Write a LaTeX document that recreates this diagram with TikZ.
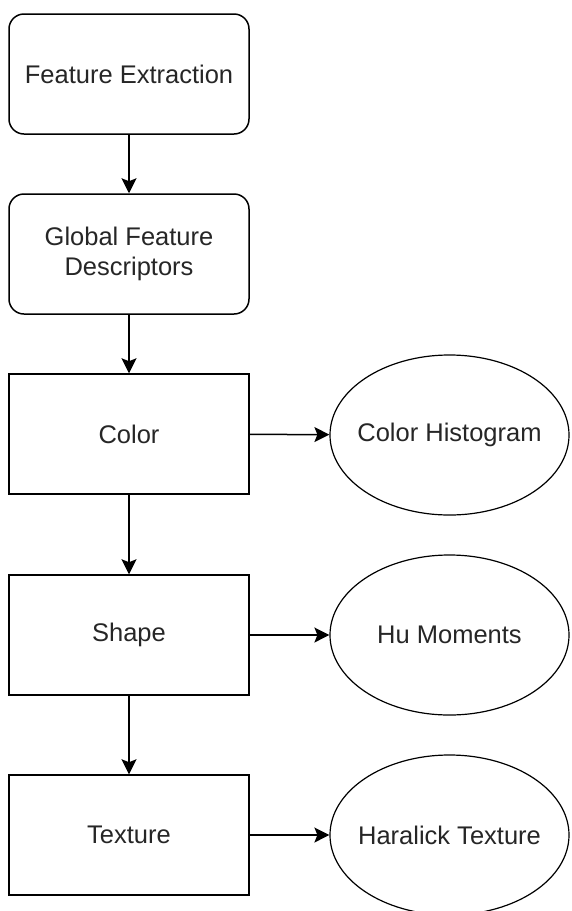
\documentclass[tikz,border=0pt]{standalone}
\usepackage{fontspec}
\setmainfont{Liberation Sans}
\usetikzlibrary{shapes.geometric,arrows.meta}
\begin{document}
\begin{tikzpicture}[x=1pt,y=-1pt,
  base/.style={draw=black,line width=1.5pt,align=center,inner sep=0pt,
    font=\fontsize{25.5}{30}\selectfont,text=black!85},
  rbox/.style={base,rectangle,rounded corners=15pt,minimum width=240pt,minimum height=120pt},
  sbox/.style={base,rectangle,minimum width=240pt,minimum height=120pt},
  ell/.style={base,ellipse,line width=1.2pt,inner sep=-15pt,minimum width=239pt,minimum height=160pt},
  arr/.style={line width=1.5pt,-{Stealth[length=15pt,width=15pt,inset=3pt]}}]
\useasboundingbox (0,0) rectangle (571,911);
\node[rbox] (fe) at (129,74) {Feature Extraction};
\node[rbox] (gfd) at (129,254) {Global Feature\\Descriptors};
\node[sbox] (color) at (129,434) {Color};
\node[sbox] (shape) at (129,635) {Shape};
\node[sbox] (texture) at (129,835) {Texture};
\node[ell] (ch) at (449.5,435) {Color Histogram};
\node[ell] (hu) at (449.5,635) {Hu Moments};
\node[ell] (ht) at (449.5,835) {Haralick Texture};
\draw[arr] (fe) -- (gfd);
\draw[arr] (gfd) -- (color);
\draw[arr] (color) -- (shape);
\draw[arr] (shape) -- (texture);
\draw[arr] (color) -- (ch);
\draw[arr] (shape) -- (hu);
\draw[arr] (texture) -- (ht);
\end{tikzpicture}
\end{document}
